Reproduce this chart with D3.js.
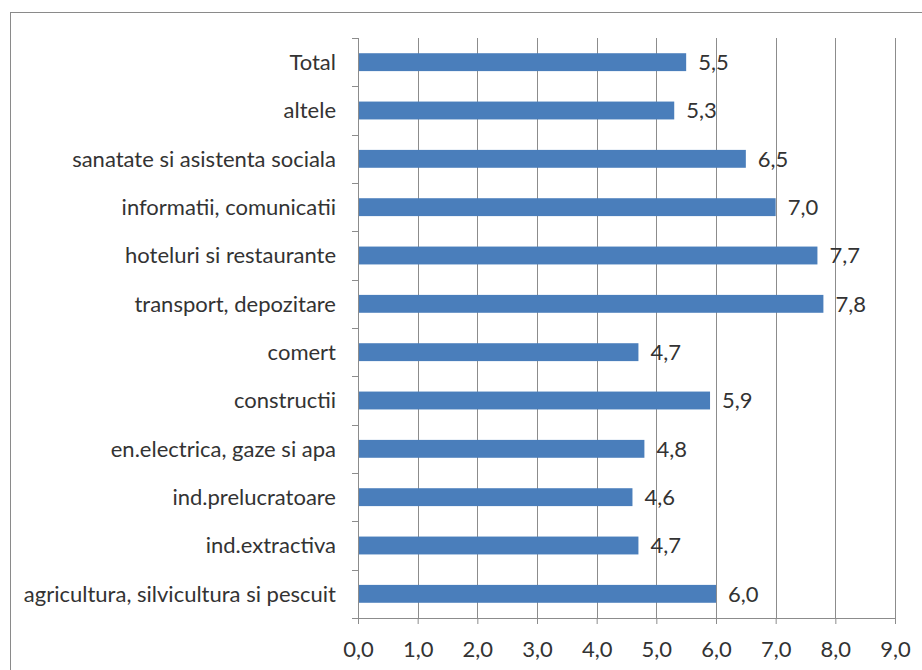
<!DOCTYPE html>
<html>
<head>
<meta charset="utf-8">
<script src="https://cdn.jsdelivr.net/npm/d3@7"></script>
<style>
  html, body { margin: 0; padding: 0; background: #fff; }
  svg text { font-family: Lato, "Open Sans", sans-serif; fill: #333; }
</style>
</head>
<body>
<div id="chart"></div>
<script>
// categories top -> bottom
const categories = [
  'Total',
  'altele',
  'sanatate si asistenta sociala',
  'informatii, comunicatii',
  'hoteluri si restaurante',
  'transport, depozitare',
  'comert',
  'constructii',
  'en.electrica, gaze si apa',
  'ind.prelucratoare',
  'ind.extractiva',
  'agricultura, silvicultura si pescuit'
];
const values = [5.5, 5.3, 6.5, 7.0, 7.7, 7.8, 4.7, 5.9, 4.8, 4.6, 4.7, 6.0];
const xTicks = [0, 1, 2, 3, 4, 5, 6, 7, 8, 9];

const W = 922, H = 670;
const margin = { top: 38, right: 27, bottom: 52, left: 358 };
const w = W - margin.left - margin.right;
const h = H - margin.top - margin.bottom;
const fontSize = 22;

const fmt = v => d3.format('.1f')(v).replace('.', ',');

const root = d3.select('#chart').append('svg')
  .attr('width', W).attr('height', H);

// outer frame (right/bottom edges fall outside the picture)
root.append('rect')
  .attr('x', 10.5).attr('y', 12.5)
  .attr('width', W + 20).attr('height', H + 20)
  .attr('fill', 'none').attr('stroke', '#8a8a8a').attr('stroke-width', 1);

const svg = root.append('g')
  .attr('transform', `translate(${margin.left},${margin.top})`);

const x = d3.scaleLinear().domain([0, 9]).range([0, w]);
const y = d3.scaleBand().domain(categories).range([0, h]).paddingInner(0.63).paddingOuter(0.315);

// vertical grid
svg.append('g')
  .selectAll('line')
  .data(xTicks.slice(1))
  .join('line')
  .attr('x1', d => Math.round(x(d)) + 0.5).attr('x2', d => Math.round(x(d)) + 0.5)
  .attr('y1', 0).attr('y2', h)
  .attr('stroke', '#8c8c8c').attr('stroke-width', 1);

// bars
svg.selectAll('.bar')
  .data(categories)
  .join('rect')
  .attr('class', 'bar')
  .attr('x', 1)
  .attr('y', d => y(d))
  .attr('width', (d, i) => x(values[i]) - 1)
  .attr('height', y.bandwidth())
  .attr('fill', '#4a7ebb');

// value labels
svg.selectAll('.val')
  .data(categories)
  .join('text')
  .attr('class', 'val')
  .attr('x', (d, i) => x(values[i]) + 12)
  .attr('y', d => y(d) + y.bandwidth() / 2)
  .attr('dy', '0.36em')
  .attr('font-size', fontSize)
  .text((d, i) => fmt(values[i]));

// bottom axis
const xAxis = svg.append('g')
  .attr('transform', `translate(0,${h})`)
  .call(d3.axisBottom(x).tickValues(xTicks).tickFormat(fmt).tickSize(6).tickSizeOuter(0));
xAxis.select('.domain').attr('stroke', '#8c8c8c').attr('d', `M0,0.5H${w}`);
xAxis.selectAll('.tick line').attr('stroke', '#8c8c8c');
xAxis.selectAll('.tick text')
  .attr('font-size', fontSize).attr('font-family', 'Lato, sans-serif')
  .attr('fill', '#333').attr('y', 23);

// left axis: ticks between categories, labels centred on bands
const yAxisG = svg.append('g');
yAxisG.append('line')
  .attr('x1', 0.5).attr('x2', 0.5).attr('y1', 0).attr('y2', h)
  .attr('stroke', '#8c8c8c');
yAxisG.selectAll('.ytick')
  .data(d3.range(categories.length + 1))
  .join('line')
  .attr('class', 'ytick')
  .attr('x1', -6).attr('x2', 0)
  .attr('y1', i => Math.round(i * h / categories.length) + 0.5)
  .attr('y2', i => Math.round(i * h / categories.length) + 0.5)
  .attr('stroke', '#8c8c8c');
yAxisG.selectAll('.ylab')
  .data(categories)
  .join('text')
  .attr('class', 'ylab')
  .attr('x', -22)
  .attr('y', d => y(d) + y.bandwidth() / 2)
  .attr('dy', '0.36em')
  .attr('text-anchor', 'end')
  .attr('font-size', fontSize)
  .text(d => d);
</script>
</body>
</html>
